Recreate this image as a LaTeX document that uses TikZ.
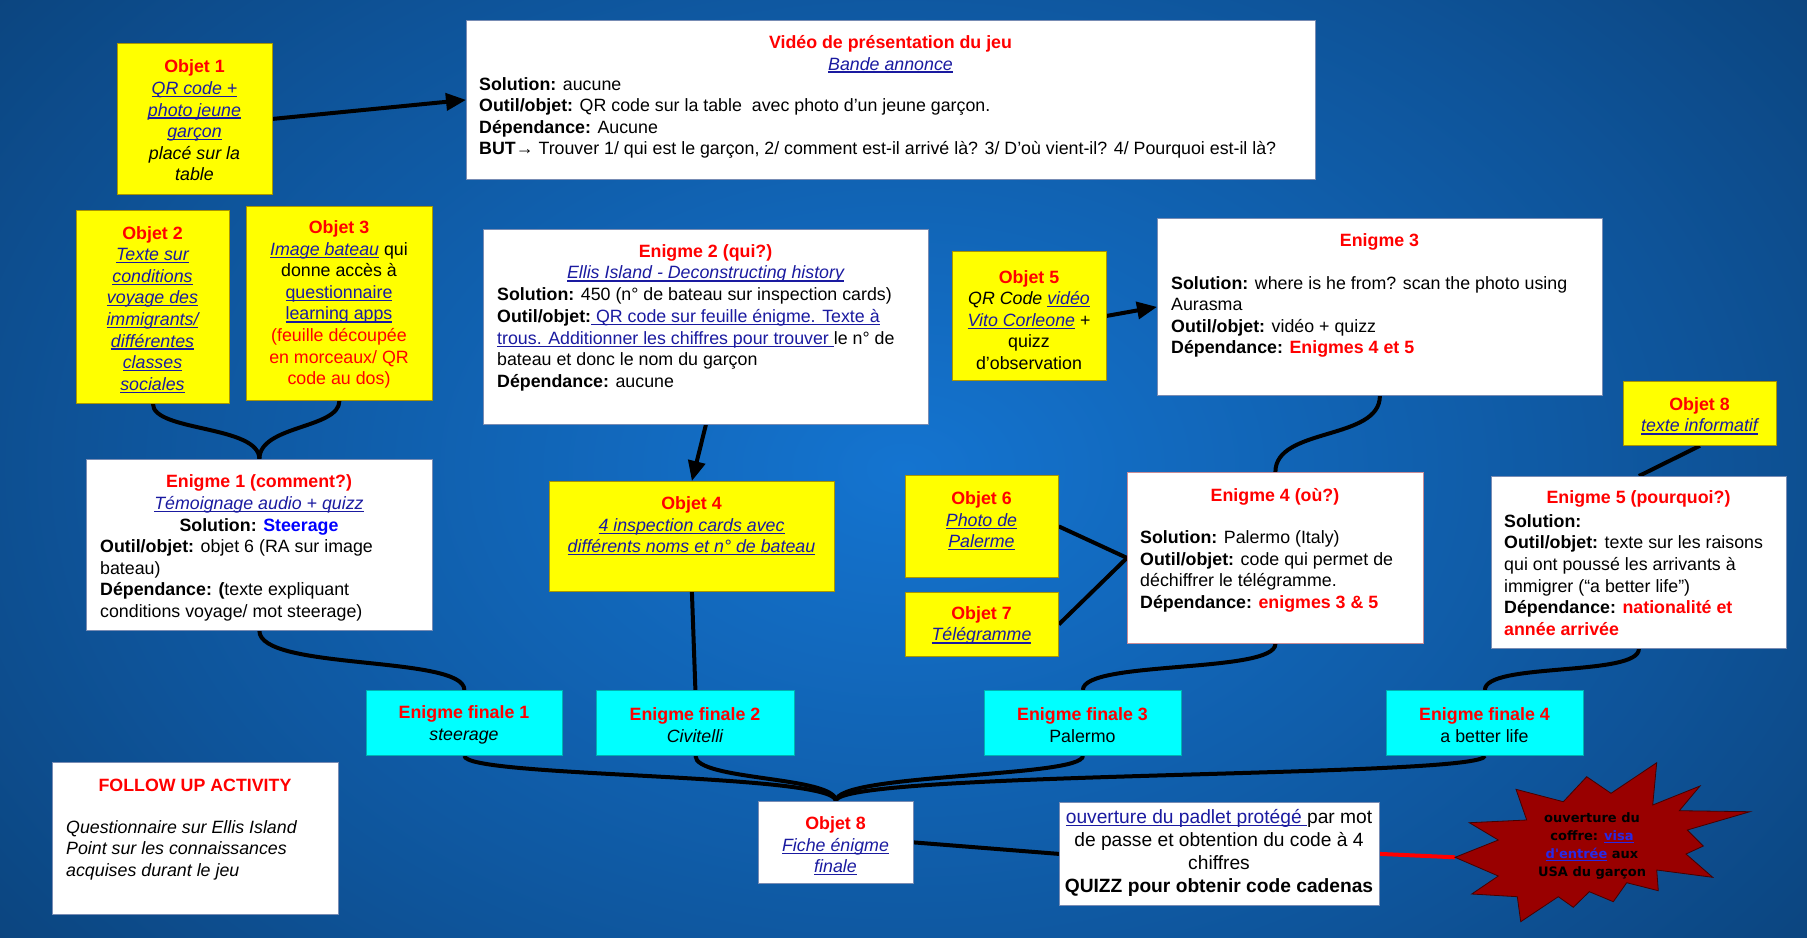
\documentclass[tikz,border=0pt]{standalone}
\usepackage{fontspec}
\setmainfont{Liberation Sans}
\newfontfamily\starfont{DejaVu Sans}
\usetikzlibrary{arrows.meta}
\definecolor{tred}{RGB}{255,0,0}
\definecolor{linkblue}{RGB}{26,26,160}
\definecolor{starlink}{RGB}{40,40,230}
\definecolor{brightblue}{RGB}{0,0,255}
\definecolor{ybg}{RGB}{255,255,0}
\definecolor{ybd}{RGB}{170,150,0}
\definecolor{cbg}{RGB}{0,255,255}
\definecolor{wbd}{RGB}{120,140,180}
\definecolor{pbd}{RGB}{200,140,150}
\definecolor{starred}{RGB}{153,0,0}
\definecolor{bgA}{RGB}{20,116,208}
\definecolor{bgB}{RGB}{14,84,154}
\definecolor{bgC}{RGB}{7,40,76}
\pgfdeclareradialshading{bgshade}{\pgfpointorigin}{color(0bp)=(bgA); color(22bp)=(bgB); color(50bp)=(bgC)}
\pgfdeclarelayer{back}
\pgfdeclarelayer{lines}
\pgfsetlayers{back,lines,main}
\newcommand\bodyfont{\fontsize{17.8}{21.6}\selectfont}
\newcommand\ulbox[1]{\leavevmode\setbox0=\hbox{#1}\rlap{\rule[-2.6pt]{\wd0}{1.2pt}}\box0}
\newcommand\lnk[1]{{\color{linkblue}\ulbox{#1}}}
\newcommand\slnk[1]{{\color{starlink}\ulbox{#1}}}
\newcommand\ttl[1]{{\color{tred}\bfseries #1}}
\tikzset{
  basebox/.style={rectangle, inner sep=0pt, anchor=north west, line width=0.8pt},
  ybox/.style={basebox, fill=ybg, draw=ybd},
  wbox/.style={basebox, fill=white, draw=wbd},
  cbox/.style={basebox, fill=cbg, draw=cbg!70!black},
  txt/.style={inner sep=0pt, font=\bodyfont, align=center},
  ltxt/.style={inner sep=0pt, font=\bodyfont, align=left, anchor=west},
  conn/.style={line width=4pt, black},
  arr/.style={conn, -{Triangle[length=20pt,width=17pt]}},
}
\begin{document}
\begin{tikzpicture}[x=1pt,y=-1pt]
\useasboundingbox (0,0) rectangle (1807,937);
\begin{pgfonlayer}{back}
\begin{scope}
\clip (0,0) rectangle (1807,937);
\shade[shading=bgshade] (0,-150) rectangle (1807,1087);
\end{scope}
\end{pgfonlayer}

% Objet 1
\node[ybox, minimum width=155pt, minimum height=151pt] (o1) at (117,43) {};
\node[txt] (o1t) at (194.5,120.5) {\ttl{Objet 1}\\ \lnk{\itshape QR code +}\\ \lnk{\itshape photo jeune}\\ \lnk{\itshape garçon}\\ {\itshape placé sur la}\\ {\itshape table}};

% Video
\node[wbox, minimum width=849pt, minimum height=159pt] (vid) at (466,20) {};
\node[txt] (vidt) at (890.5,54) {\ttl{Vidéo de présentation du jeu}\\ \lnk{\itshape Bande annonce}};
\node[ltxt] (vidb) at (479,118) {\textbf{Solution:} aucune\\ \textbf{Outil/objet:} QR code sur la table\ \ avec photo d’un jeune garçon.\\ \textbf{Dépendance:} Aucune\\ \textbf{BUT}→ Trouver 1/ qui est le garçon, 2/ comment est-il arrivé là? 3/ D’où vient-il? 4/ Pourquoi est-il là?};

% Objet 2
\node[ybox, minimum width=153pt, minimum height=193pt] (o2) at (76,210) {};
\node[txt] (o2t) at (152.5,309.5) {\ttl{Objet 2}\\ \lnk{\itshape Texte sur}\\ \lnk{\itshape conditions}\\ \lnk{\itshape voyage des}\\ \lnk{\itshape immigrants/}\\ \lnk{\itshape différentes}\\ \lnk{\itshape classes}\\ \lnk{\itshape sociales}};

% Objet 3
\node[ybox, minimum width=186pt, minimum height=194pt] (o3) at (246,206) {};
\node[txt] (o3t) at (339,304.5) {\ttl{Objet 3}\\ \lnk{\itshape Image bateau} qui\\ donne accès à\\ \lnk{questionnaire}\\ \lnk{learning apps}\\ \textcolor{tred}{(feuille découpée}\\ \textcolor{tred}{en morceaux/ QR}\\ \textcolor{tred}{code au dos)}};

% Enigme 2
\node[wbox, minimum width=445pt, minimum height=195pt] (e2) at (483,229) {};
\node[txt] (e2t) at (705.5,263.5) {\ttl{Enigme 2 (qui?)}\\ \lnk{\itshape Ellis Island - Deconstructing history}};
\node[ltxt] (e2b) at (497,339.5) {\textbf{Solution:} 450 (n° de bateau sur inspection cards)\\ \textbf{Outil/objet:}\lnk{ QR code sur feuille énigme. Texte à}\\ \lnk{trous. Additionner les chiffres pour trouver }le n° de\\ bateau et donc le nom du garçon\\ \textbf{Dépendance:} aucune};

% Objet 5
\node[ybox, minimum width=154pt, minimum height=129pt] (o5) at (952,251) {};
\node[txt] (o5t) at (1029,320) {\ttl{Objet 5}\\ {\itshape QR Code \lnk{vidéo}}\\ \lnk{\itshape Vito Corleone} +\\ quizz\\ d’observation};

% Enigme 3
\node[wbox, minimum width=445pt, minimum height=177pt] (e3) at (1157,218) {};
\node[txt] (e3t) at (1379.5,242) {\ttl{Enigme 3}};
\node[ltxt] (e3b) at (1171,317) {\textbf{Solution:} where is he from? scan the photo using\\ Aurasma\\ \textbf{Outil/objet:} vidéo + quizz\\ \textbf{Dépendance:} \ttl{Enigmes 4 et 5}};

% Objet 8 texte
\node[ybox, minimum width=153pt, minimum height=64pt] (o8) at (1623,381) {};
\node[txt] (o8t) at (1699.5,416) {\ttl{Objet 8}\\ \lnk{\itshape texte informatif}};

% Enigme 1
\node[wbox, minimum width=346pt, minimum height=171pt] (e1) at (86,459) {};
\node[txt] (e1t) at (259,505) {\ttl{Enigme 1 (comment?)}\\ \lnk{\itshape Témoignage audio + quizz}\\ \textbf{Solution:} \textcolor{brightblue}{\textbf{Steerage}}};
\node[ltxt] (e1b) at (100,580.5) {\textbf{Outil/objet:} objet 6 (RA sur image\\ bateau)\\ \textbf{Dépendance: (}texte expliquant\\ conditions voyage/ mot steerage)};

% Objet 4
\node[ybox, minimum width=285pt, minimum height=110pt] (o4) at (549,481) {};
\node[txt] (o4t) at (691.5,526) {\ttl{Objet 4}\\ \lnk{\itshape 4 inspection cards avec}\\ \lnk{\itshape différents noms et n° de bateau}};

% Objet 6, 7
\node[ybox, minimum width=153pt, minimum height=102pt] (o6) at (905,475) {};
\node[txt] (o6t) at (981.5,521) {\ttl{Objet 6}\\ \lnk{\itshape Photo de}\\ \lnk{\itshape Palerme}};
\node[ybox, minimum width=153pt, minimum height=64pt] (o7) at (905,592) {};
\node[txt] (o7t) at (981.5,625.5) {\ttl{Objet 7}\\ \lnk{\itshape Télégramme}};

% Enigme 4
\node[basebox, fill=white, draw=pbd, minimum width=296pt, minimum height=171pt] (e4) at (1127,472) {};
\node[txt] (e4t) at (1275,497) {\ttl{Enigme 4 (où?)}};
\node[ltxt] (e4b) at (1140,571.5) {\textbf{Solution:} Palermo (Italy)\\ \textbf{Outil/objet:} code qui permet de\\ déchiffrer le télégramme.\\ \textbf{Dépendance:} \ttl{enigmes 3 \& 5}};

% Enigme 5
\node[wbox, minimum width=295pt, minimum height=172pt] (e5) at (1491,476) {};
\node[txt] (e5t) at (1638.5,499) {\ttl{Enigme 5 (pourquoi?)}};
\node[ltxt] (e5b) at (1504,575) {\textbf{Solution:}\\ \textbf{Outil/objet:} texte sur les raisons\\ qui ont poussé les arrivants à\\ immigrer (“a better life”)\\ \textbf{Dépendance:} \ttl{nationalité et}\\ \ttl{année arrivée}};

% Enigmes finales
\node[cbox, minimum width=196pt, minimum height=65pt] (f1) at (366,690) {};
\node[txt] (f1t) at (464,725) {\ttl{Enigme finale 1}\\ {\itshape steerage}};
\node[cbox, minimum width=198pt, minimum height=65pt] (f2) at (596,690) {};
\node[txt] (f2t) at (695,725) {\ttl{Enigme finale 2}\\ {\itshape Civitelli}};
\node[cbox, minimum width=197pt, minimum height=65pt] (f3) at (984,690) {};
\node[txt] (f3t) at (1082.5,725) {\ttl{Enigme finale 3}\\ Palermo};
\node[cbox, minimum width=197pt, minimum height=65pt] (f4) at (1386,690) {};
\node[txt] (f4t) at (1484.5,725) {\ttl{Enigme finale 4}\\ a better life};

% Follow up
\node[wbox, minimum width=286pt, minimum height=152pt] (fu) at (52,762) {};
\node[txt] (fut) at (195,785) {\ttl{FOLLOW UP ACTIVITY}};
\node[ltxt, font=\bodyfont\itshape] (fub) at (66,850) {Questionnaire sur Ellis Island\\ Point sur les connaissances\\ acquises durant le jeu};

% Objet 8 fiche
\node[wbox, minimum width=155pt, minimum height=82pt] (o8f) at (758,801) {};
\node[txt] (o8ft) at (835.5,846) {\ttl{Objet 8}\\ \lnk{\itshape Fiche énigme}\\ \lnk{\itshape finale}};

% Padlet
\node[wbox, minimum width=320pt, minimum height=103pt] (pad) at (1059,802) {};
\node[txt, font=\fontsize{19.2}{23}\selectfont] (padt) at (1219,853) {\lnk{ouverture du padlet protégé }par mot\\ de passe et obtention du code à 4\\ chiffres\\ \textbf{QUIZZ pour obtenir code cadenas}};

% Starburst
\coordinate (sbtip) at (1455,857.3);
\draw[fill=starred, draw=starred!45!black, line width=0.8pt]
  (1656.7,762.7) -- (1652.7,805) -- (1700,786) -- (1679.3,810.7) -- (1750,811.7)
  -- (1687.3,830) -- (1703.3,846) -- (1686,854) -- (1712.7,877.3) -- (1656.7,870)
  -- (1658.3,890.7) -- (1626.7,882.7) -- (1613.3,901.7) -- (1589.3,891.7)
  -- (1573.3,907.3) -- (1558.3,896.7) -- (1520.7,921.7) -- (1517.3,896.7)
  -- (1471.7,894) -- (1498.3,876) -- (sbtip) -- (1498.3,840) -- (1469.3,822.7)
  -- (1526.7,820) -- (1516,789.3) -- (1563.3,801.7) -- (1586.7,776.7)
  -- (1611,793.3) -- cycle;
\node[inner sep=0pt, align=center, font=\starfont\bfseries\fontsize{13}{18.2}\selectfont] (sbt) at (1592,846) {ouverture du\\ coffre: \slnk{visa}\\ \slnk{d'entrée} aux\\ USA du garçon};

% Connectors
\begin{pgfonlayer}{lines}
\draw[arr] (o1.east) -- (vid.west);
\draw[arr] (e2.south) -- (o4.north);
\draw[arr] (o5.east) -- (e3.west);
\draw[conn] (o2.south) .. controls +(0,28) and +(0,-34) .. (e1.north);
\draw[conn] (o3.south) .. controls +(0,28) and +(0,-34) .. (e1.north);
\draw[conn] (e1.south) .. controls +(0,40) and +(0,-35) .. (f1.north);
\draw[conn] (o4.south) -- (f2.north);
\draw[conn] (e3.south) .. controls +(0,45) and +(0,-45) .. (e4.north);
\draw[conn] (o6.east) -- (e4.west);
\draw[conn] (o7.east) -- (e4.west);
\draw[conn] (o8.south) -- (e5.north);
\draw[conn] (e4.south) .. controls +(0,30) and +(0,-30) .. (f3.north);
\draw[conn] (e5.south) .. controls +(0,28) and +(0,-28) .. (f4.north);
\draw[conn] (f1.south) .. controls +(0,22) and +(0,-28) .. (o8f.north);
\draw[conn] (f2.south) .. controls +(0,25) and +(0,-25) .. (o8f.north);
\draw[conn] (f3.south) .. controls +(0,22) and +(0,-28) .. (o8f.north);
\draw[conn] (f4.south) .. controls +(0,22) and +(0,-30) .. (o8f.north);
\draw[conn] (o8f.east) -- (pad.west);
\draw[conn, tred] (pad.east) -- (sbtip);
\end{pgfonlayer}
\end{tikzpicture}
\end{document}
